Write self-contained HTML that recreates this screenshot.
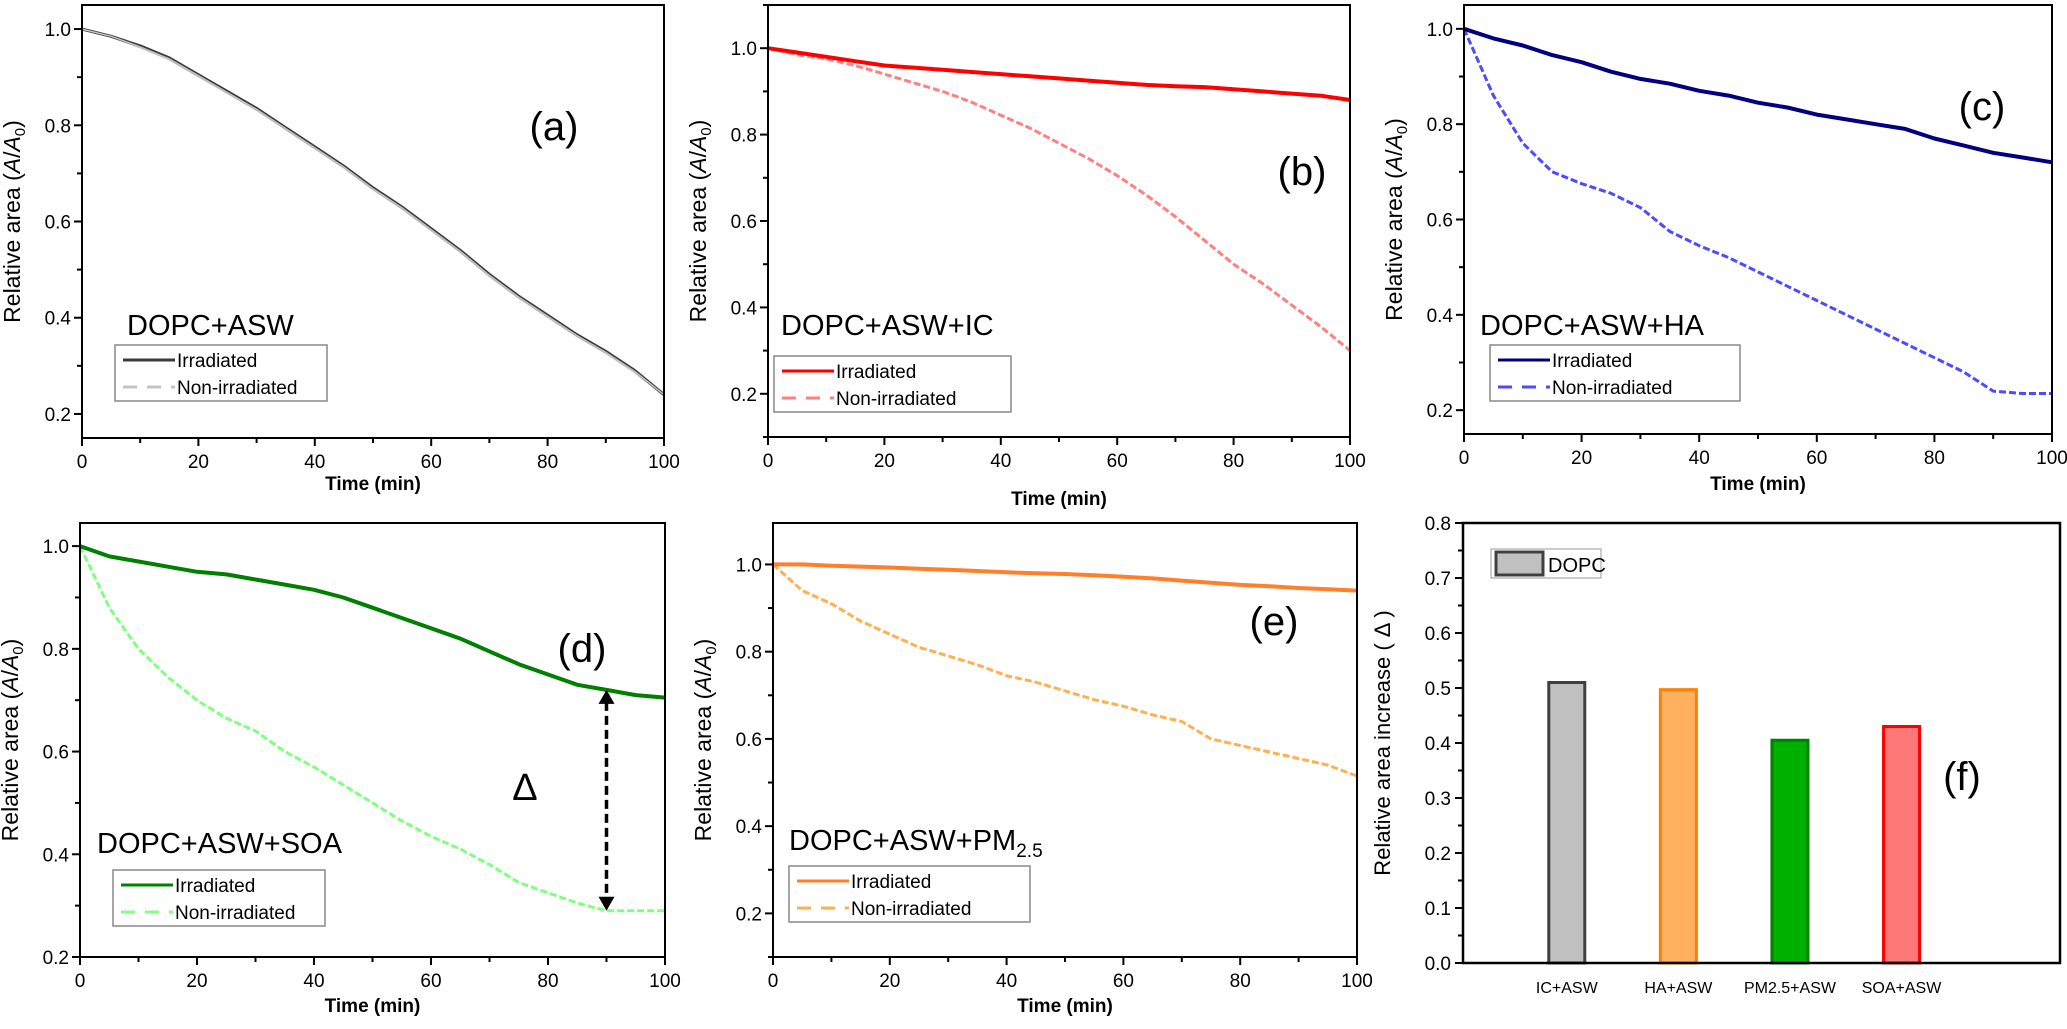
<!DOCTYPE html>
<html><head><meta charset="utf-8"><style>
html,body{margin:0;padding:0;background:#fff;}
svg{display:block;font-family:"Liberation Sans",Arial,sans-serif;}
</style></head><body>
<svg id="fig" width="2067" height="1029" viewBox="0 0 2067 1029" xmlns="http://www.w3.org/2000/svg"></svg>
<script>
const times = [0,5,10,15,20,25,30,35,40,45,50,55,60,65,70,75,80,85,90,95,100];
const aIrr = [1.0,0.985,0.965,0.94,0.905,0.87,0.835,0.795,0.755,0.715,0.67,0.63,0.585,0.54,0.49,0.445,0.405,0.365,0.33,0.29,0.24];
const aNon = [1.0,0.985,0.963,0.938,0.903,0.868,0.833,0.793,0.753,0.713,0.668,0.628,0.583,0.538,0.488,0.443,0.403,0.363,0.328,0.288,0.24];
const bIrr = [1.0,0.99,0.98,0.97,0.96,0.955,0.95,0.945,0.94,0.935,0.93,0.925,0.92,0.915,0.912,0.91,0.905,0.9,0.895,0.89,0.88];
const bNon = [1.0,0.985,0.975,0.96,0.94,0.92,0.9,0.875,0.845,0.815,0.78,0.745,0.705,0.66,0.61,0.555,0.5,0.455,0.405,0.355,0.3];
const cIrr = [1.0,0.98,0.965,0.945,0.93,0.91,0.895,0.885,0.87,0.86,0.845,0.835,0.82,0.81,0.8,0.79,0.77,0.755,0.74,0.73,0.72];
const cNon = [1.0,0.86,0.76,0.7,0.675,0.655,0.625,0.575,0.545,0.52,0.49,0.46,0.43,0.4,0.37,0.34,0.31,0.28,0.24,0.235,0.235];
const dIrr = [1.0,0.98,0.97,0.96,0.95,0.945,0.935,0.925,0.915,0.9,0.88,0.86,0.84,0.82,0.795,0.77,0.75,0.73,0.72,0.71,0.705];
const dNon = [1.0,0.88,0.8,0.745,0.7,0.665,0.64,0.6,0.57,0.535,0.5,0.465,0.435,0.41,0.38,0.345,0.325,0.305,0.29,0.29,0.29];
const eIrr = [1.0,1.0,0.997,0.995,0.993,0.99,0.988,0.985,0.982,0.98,0.978,0.975,0.972,0.968,0.963,0.958,0.953,0.95,0.946,0.943,0.94];
const eNon = [1.0,0.94,0.91,0.87,0.84,0.81,0.79,0.77,0.745,0.73,0.71,0.69,0.675,0.655,0.64,0.6,0.585,0.57,0.555,0.54,0.515];
const xTickLabels = ["0","20","40","60","80","100"];
const yTickLabels = ["0.2","0.4","0.6","0.8","1.0"];
const barCats = ["IC+ASW","HA+ASW","PM2.5+ASW","SOA+ASW"];
const barVals = [0.51,0.497,0.405,0.43];
const barTicks = ["0.0","0.1","0.2","0.3","0.4","0.5","0.6","0.7","0.8"];

const NS="http://www.w3.org/2000/svg";
const svg=document.getElementById('fig');
function mk(tag,attrs,parent){const e=document.createElementNS(NS,tag);for(const k in attrs)e.setAttribute(k,attrs[k]);(parent||svg).appendChild(e);return e;}
function txt(s,attrs,parent){const e=mk('text',attrs,parent);e.textContent=s;return e;}

const panels=[
 {id:'a',L:82,R:664,T:5,B:438,y0:0.15,y1:1.05,irr:aIrr,non:aNon,ci:'#3a3a3a',cn:'#c4c4c4',title:'DOPC+ASW',sub:null,tx:127,ty:335,lx:115,ly:345,lw:212,tag:'(a)',gx:554,gy:140,ttlY:490},
 {id:'b',L:768,R:1350,T:5,B:437,y0:0.1,y1:1.1,irr:bIrr,non:bNon,ci:'#ff0000',cn:'#ff8080',title:'DOPC+ASW+IC',sub:null,tx:781,ty:335,lx:774,ly:356,lw:237,tag:'(b)',gx:1302,gy:185,ttlY:505},
 {id:'c',L:1464,R:2052,T:5,B:434,y0:0.15,y1:1.05,irr:cIrr,non:cNon,ci:'#000080',cn:'#4b4bff',title:'DOPC+ASW+HA',sub:null,tx:1480,ty:335,lx:1490,ly:345,lw:250,tag:'(c)',gx:1982,gy:120,ttlY:490},
 {id:'d',L:80,R:665,T:523,B:957,y0:0.2,y1:1.045,irr:dIrr,non:dNon,ci:'#008000',cn:'#80ff80',title:'DOPC+ASW+SOA',sub:null,tx:97,ty:853,lx:113,ly:870,lw:212,tag:'(d)',gx:582,gy:662,ttlY:1012},
 {id:'e',L:773,R:1357,T:523,B:957,y0:0.1,y1:1.095,irr:eIrr,non:eNon,ci:'#ff7f2a',cn:'#ffb050',title:'DOPC+ASW+PM',sub:'2.5',tx:789,ty:850,lx:789,ly:866,lw:241,tag:'(e)',gx:1274,gy:635,ttlY:1012}
];

panels.forEach(p=>{
 const g=mk('g',{});
 
 
 const xs=t=>p.L+(t/100)*(p.R-p.L);
 const ys=v=>p.B-(v-p.y0)/(p.y1-p.y0)*(p.B-p.T);
 for(let t=0;t<=100;t+=10){
  const major=t%20===0;
  mk('line',{x1:xs(t),x2:xs(t),y1:p.B,y2:p.B+(major?8:5),stroke:'#000','stroke-width':2},g);
 }
 xTickLabels.forEach(s=>{
  const l=txt(s,{x:xs(+s),y:p.B+30,'font-size':19,'text-anchor':'middle',fill:'#000'},g);
  
  
 });
 for(let v=0.1;v<=1.1001;v+=0.1){
  const vv=Math.round(v*10)/10;
  if(vv<p.y0-1e-6||vv>p.y1+1e-6)continue;
  const major=Math.round(vv*10)%2===0;
  mk('line',{x1:p.L,x2:p.L-(major?8:5),y1:ys(vv),y2:ys(vv),stroke:'#000','stroke-width':2},g);
 }
 yTickLabels.forEach(s=>{
  if(+s<p.y0-1e-6)return;
  const l=txt(s,{x:p.L-11,y:ys(+s)+7,'font-size':19,'text-anchor':'end',fill:'#000'},g);
  
  
 });
 const cy=(p.T+p.B)/2;
 const yt=txt('',{x:0,y:0,'font-size':23,'text-anchor':'middle',transform:`translate(${p.L-62},${cy}) rotate(-90)`,fill:'#000'},g);
 
 
 yt.innerHTML='Relative area (<tspan font-style="italic">A</tspan>/<tspan font-style="italic">A</tspan><tspan font-size="15" dy="5">0</tspan><tspan dy="-5">)</tspan>';
 const xt=txt('Time (min)',{x:(p.L+p.R)/2,y:p.ttlY,'font-size':19,'font-weight':'bold','text-anchor':'middle',fill:'#000'},g);
 
 
 const pts=arr=>arr.map((v,i)=>xs(times[i]).toFixed(1)+','+ys(v).toFixed(1)).join(' ');
 const sn=mk('polyline',{points:pts(p.non),fill:'none',stroke:p.cn,'stroke-width':3,'stroke-dasharray':p.id==='a'?'':'7,3','stroke-linejoin':'round'},g);
 
 
 const si=mk('polyline',{points:pts(p.irr),fill:'none',stroke:p.ci,'stroke-width':p.id==='a'?3:4,'stroke-linejoin':'round'},g);
 
 
 if(p.id==='a'){
  const s2=mk('polyline',{points:pts(p.non),fill:'none',stroke:p.cn,'stroke-width':1.5},g);
  
  
 }
 const fr=mk('rect',{x:p.L,y:p.T,width:p.R-p.L,height:p.B-p.T,fill:'none',stroke:'#000','stroke-width':2},g);
 
 
 const st=txt(p.title,{x:p.tx,y:p.ty,'font-size':29,fill:'#000'},g);
 
 
 if(p.sub){const ts=mk('tspan',{'font-size':19,dy:7},st);ts.textContent=p.sub;}
 const tg=txt(p.tag,{x:p.gx,y:p.gy,'font-size':40,'text-anchor':'middle',fill:'#000'},g);
 
 
 const lg=mk('g',{},g);
 
 
 mk('rect',{x:p.lx,y:p.ly,width:p.lw,height:56,fill:'#fff',stroke:'#888','stroke-width':1.5},lg);
 mk('line',{x1:p.lx+8,x2:p.lx+60,y1:p.ly+15,y2:p.ly+15,stroke:p.ci,'stroke-width':3},lg);
 mk('line',{x1:p.lx+8,x2:p.lx+60,y1:p.ly+42,y2:p.ly+42,stroke:p.cn,'stroke-width':3,'stroke-dasharray':'14,10'},lg);
 const l1=txt('Irradiated',{x:p.lx+62,y:p.ly+22,'font-size':19,fill:'#000'},lg);
 
 
 const l2=txt('Non-irradiated',{x:p.lx+62,y:p.ly+49,'font-size':19,fill:'#000'},lg);
 
 
 if(p.id==='d'){
  const ax=xs(90);
  const ar=mk('g',{},g);
  
  
  mk('line',{x1:ax,x2:ax,y1:ys(p.irr[18])+12,y2:ys(p.non[18])-12,stroke:'#000','stroke-width':3.5,'stroke-dasharray':'9,5'},ar);
  mk('polygon',{points:`${ax-8},${ys(p.irr[18])+14} ${ax+8},${ys(p.irr[18])+14} ${ax},${ys(p.irr[18])}`,fill:'#000'},ar);
  mk('polygon',{points:`${ax-8},${ys(p.non[18])-14} ${ax+8},${ys(p.non[18])-14} ${ax},${ys(p.non[18])}`,fill:'#000'},ar);
  const dl=txt('Δ',{x:525,y:800,'font-size':38,'text-anchor':'middle',fill:'#000'},g);
  
  
 }
});

(function(){
 const L=1463,R=2060,T=523,B=963,y0=0,y1=0.8;
 const g=mk('g',{});
 
 
 const ys=v=>B-(v-y0)/(y1-y0)*(B-T);
 const xc=i=>L+(i+0.93)*((R-L)/5.35);
 const fills=['#c0c0c0','#ffb060','#00b000','#ff7878'];
 const strokes=['#404040','#ff8000','#008000','#ff0000'];
 for(let k=0;k<=16;k++){
  const v=k*0.05;const major=k%2===0;
  mk('line',{x1:L,x2:L-(major?8:5),y1:ys(v),y2:ys(v),stroke:'#000','stroke-width':2},g);
 }
 barTicks.forEach(s=>{
  const l=txt(s,{x:L-12,y:ys(+s)+7,'font-size':19,'text-anchor':'end',fill:'#000'},g);
  
  
 });
 barVals.forEach((v,i)=>{
  const b=mk('rect',{x:xc(i)-18,y:ys(v),width:36,height:ys(0)-ys(v),fill:fills[i],stroke:strokes[i],'stroke-width':3},g);
  
  
  const l=txt(barCats[i],{x:xc(i),y:B+30,'font-size':16,'text-anchor':'middle',fill:'#000'},g);
  
  
 });
 const fr=mk('rect',{x:L,y:T,width:R-L,height:B-T,fill:'none',stroke:'#000','stroke-width':2.5},g);
 
 
 const yt=txt('Relative area increase ( Δ )',{x:0,y:0,'font-size':22,'text-anchor':'middle',transform:`translate(1390,${(T+B)/2}) rotate(-90)`,fill:'#000'},g);
 
 
 const lg=mk('g',{},g);
 
 
 mk('rect',{x:1491,y:549,width:110,height:29,fill:'#fff',stroke:'#999','stroke-width':1},lg);
 mk('rect',{x:1496,y:552,width:47,height:23,fill:'#c0c0c0',stroke:'#404040','stroke-width':3},lg);
 const lt=txt('DOPC',{x:1548,y:572,'font-size':20,fill:'#000'},lg);
 
 
 const tg=txt('(f)',{x:1962,y:790,'font-size':40,'text-anchor':'middle',fill:'#000'},g);
 
 
})();
</script>
</body></html>
